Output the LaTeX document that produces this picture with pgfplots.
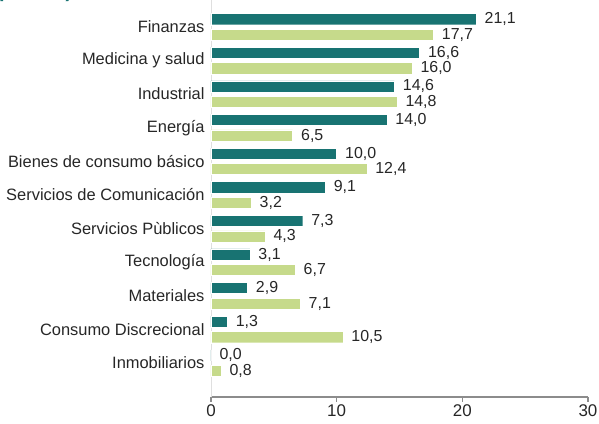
\documentclass[border=0pt]{standalone}
\usepackage{pgfplots}
\pgfplotsset{compat=1.18}
\usepackage{fontspec}
\setmainfont{Liberation Sans}
\definecolor{teal1}{RGB}{24,115,114}
\definecolor{green1}{RGB}{198,218,139}
\definecolor{txt}{RGB}{38,38,38}
\definecolor{axgray}{RGB}{140,140,140}
\begin{document}
\begin{tikzpicture}
\begin{axis}[
  at={(0,0)}, anchor=south west,
  scale only axis,
  width=377bp, height=397bp,
  xmin=0, xmax=30,
  ymin=-1.01, ymax=10.8,
  xbar, bar width=0.33,
  xtick={0,10,20,30},
  ytick={0,...,10},
  yticklabels={Inmobiliarios,Consumo Discrecional,Materiales,Tecnología,Servicios Pùblicos,Servicios de Comunicación,Bienes de consumo básico,Energía,Industrial,Medicina y salud,Finanzas},
  axis x line*=bottom,
  axis y line*=left,
  x axis line style={axgray, line width=1.2pt, -},
  y axis line style={draw=gray!25, line width=0.8pt, -},
  xtick style={axgray, line width=1.2pt},
  tick align=outside,
  major tick length=5bp,
  ytick style={draw=none},
  xticklabel style={font=\fontsize{17}{19}\selectfont, text=txt, yshift=1bp},
  yticklabel style={font=\fontsize{16.5}{18}\selectfont, text=txt, xshift=2bp},
  /pgf/number format/assume math mode=true,
  point meta=x,
  nodes near coords={\pgfmathprintnumber[fixed,fixed zerofill,precision=1,use comma]{\pgfplotspointmeta}},
  nodes near coords style={font=\fontsize{16}{18}\selectfont, text=txt, anchor=west, xshift=5bp},
  clip=false,
]
\addplot[fill=teal1, draw=white, line width=0.4pt, bar shift=0.23] coordinates {
(21.1,10) (16.6,9) (14.6,8) (14.0,7) (10.0,6) (9.1,5) (7.3,4) (3.1,3) (2.9,2) (1.3,1) (0.0,0)};
\addplot[fill=green1, draw=white, line width=0.4pt, bar shift=-0.23] coordinates {
(17.7,10) (16.0,9) (14.8,8) (6.5,7) (12.4,6) (3.2,5) (4.3,4) (6.7,3) (7.1,2) (10.5,1) (0.8,0)};
\end{axis}
\node[anchor=base west, inner sep=0pt, text=teal1, font=\bfseries\fontsize{20}{22}\selectfont] at (-212bp,399bp) {puntos)};
\pgfresetboundingbox
\path[use as bounding box] (-211bp,-27bp) rectangle (388bp,397bp);
\end{tikzpicture}
\end{document}
